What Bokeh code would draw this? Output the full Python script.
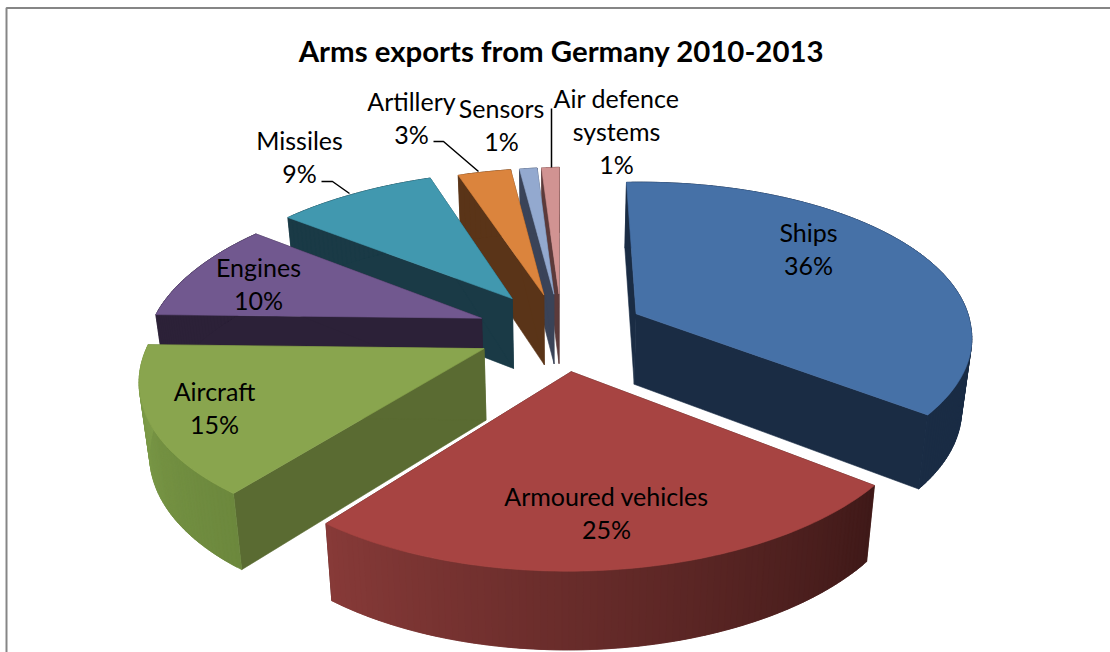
import math
from bokeh.core.properties import value
from bokeh.embed import file_html
from bokeh.models import ColumnDataSource
from bokeh.plotting import figure
from bokeh.resources import INLINE

# Share of German arms exports, percent, clockwise from twelve o'clock
categories = ["Ships", "Armoured vehicles", "Aircraft", "Engines",
              "Missiles", "Artillery", "Sensors", "Air defence systems"]
shares = [36, 25, 15, 10, 9, 3, 1, 1]

top_colors = ["#4671A7", "#A74442", "#89A54E", "#71588F",
              "#4198AF", "#DB843D", "#93A9CF", "#D19392"]
cut_colors = ["#1A2C44", "#421A18", "#5A6B32", "#2C2138",
              "#1A3A46", "#5A3418", "#3A4358", "#5C3A3A"]
# Rim shading at the clockwise start and end of each slice
rim_start = ["#1A2C44", "#3F1918", "#6C883D", "#2C2138",
             "#1A3A46", "#5A3418", "#3A4358", "#5C3A3A"]
rim_end = ["#1A2C44", "#873A38", "#7F9E4A", "#2C2138",
           "#1A3A46", "#5A3418", "#3A4358", "#5C3A3A"]
# How far each slice is pulled out of the pie, in radii
explode = [0.25, 0.25, 0.25, 0.26, 0.27, 0.25, 0.25, 0.25]

# Text placement: (lines, x, first line y)
label_lines = [["Ships", "36%"], ["Armoured vehicles", "25%"], ["Aircraft", "15%"],
               ["Engines", "10%"], ["Missiles", "9%"], ["Artillery", "3%"],
               ["Sensors", "1%"], ["Air defence", "systems", "1%"]]
label_x = [808, 606, 214, 258, 299, 411, 501, 616]
label_y = [231, 495, 390, 266, 139, 100, 107, 97]
line_step = 33

leader_x = [[321, 332, 349], [433, 443, 478], [551, 551]]
leader_y = [[181, 181, 193], [141, 141, 171], [108, 167]]

# Perspective camera over the pie
CX, CY = 561, 331
SCALE_X, SCALE_Y = 335, 156
ROLL = 6
FRONT_SHEAR = 6
DEPTH_K = 0.15
THICK = 71
BASE_SHRINK = 0.975


def project(wx, wy):
    w = 1 + DEPTH_K * wy
    sx = CX + (SCALE_X * wx - FRONT_SHEAR * min(wy, 0)) / w
    return sx, CY - (SCALE_Y * wy + ROLL * wx) / w, w


def lower(wx, wy):
    sx, sy, w = project(wx, wy)
    return CX + (sx - CX) * BASE_SHRINK, sy + THICK / math.sqrt(w)


def mix(c1, c2, t):
    a = [int(c1[i:i + 2], 16) for i in (1, 3, 5)]
    b = [int(c2[i:i + 2], 16) for i in (1, 3, 5)]
    return "#%02x%02x%02x" % tuple(round(u + (v - u) * t) for u, v in zip(a, b))


p = figure(width=1110, height=652, x_range=(0, 1110), y_range=(652, 0),
           output_backend="svg", toolbar_location=None, min_border=0,
           outline_line_color=None, background_fill_color="white")
p.axis.visible = False
p.grid.visible = False


def add_poly(xs, ys, color):
    p.patch(xs, ys, fill_color=color, line_color=color, line_width=0.6)


total = sum(shares)
starts = []
acc = 0
for s in shares:
    starts.append(acc / total * 360)
    acc += s

# Back slices go first so nearer ones paint over them
order = [7, 6, 5, 4, 3, 0, 2, 1]
for i in order:
    a0 = starts[i]
    a1 = a0 + shares[i] / total * 360
    mid = math.radians((a0 + a1) / 2)
    ox, oy = explode[i] * math.sin(mid), explode[i] * math.cos(mid)
    n = max(4, int((a1 - a0)))
    angles = [math.radians(a0 + (a1 - a0) * k / n) for k in range(n + 1)]
    rim = [(ox + math.sin(a), oy + math.cos(a)) for a in angles]

    # Radial cut faces
    for wx, wy in (rim[0], rim[-1]):
        xs, ys = [], []
        for q in ((ox, oy), (wx, wy)):
            sx, sy, _ = project(*q)
            xs.append(sx)
            ys.append(sy)
        for q in ((wx, wy), (ox, oy)):
            sx, sy = lower(*q)
            xs.append(sx)
            ys.append(sy)
        add_poly(xs, ys, cut_colors[i])

    # Curved outer wall: each shaded strip laps under the next one
    for k in range(n):
        band = rim[k:k + 3]
        tops = [project(*q) for q in band]
        lows = [lower(*q) for q in reversed(band)]
        add_poly([q[0] for q in tops] + [q[0] for q in lows],
                 [q[1] for q in tops] + [q[1] for q in lows],
                 mix(rim_start[i], rim_end[i], (k + 0.5) / n))

    # Top face
    pts = [project(ox, oy)] + [project(*q) for q in rim]
    add_poly([q[0] for q in pts], [q[1] for q in pts], top_colors[i])

# Chart frame: only the top and left edges fall inside the page
p.line([1110, 6, 6], [7.5, 7.5, 652], line_color="#868686", line_width=2)

p.multi_line(leader_x, leader_y, line_color="black", line_width=1.5)

text_x, text_y, text_s = [], [], []
for lines, lx, ly in zip(label_lines, label_x, label_y):
    for j, t in enumerate(lines):
        text_x.append(lx)
        text_y.append(ly + j * line_step)
        text_s.append(t)
p.text(x="x", y="y", text="t", source=ColumnDataSource(dict(x=text_x, y=text_y, t=text_s)),
       text_font=value("Lato"), text_font_size="25px", text_color="black",
       text_align="center", text_baseline="middle")

p.text(x=[561], y=[50], text=["Arms exports from Germany 2010-2013"],
       text_font=value("Lato"), text_font_style="bold", text_font_size="29.4px",
       text_color="black", text_align="center", text_baseline="middle")

open("out.html", "w").write(file_html(p, INLINE))
